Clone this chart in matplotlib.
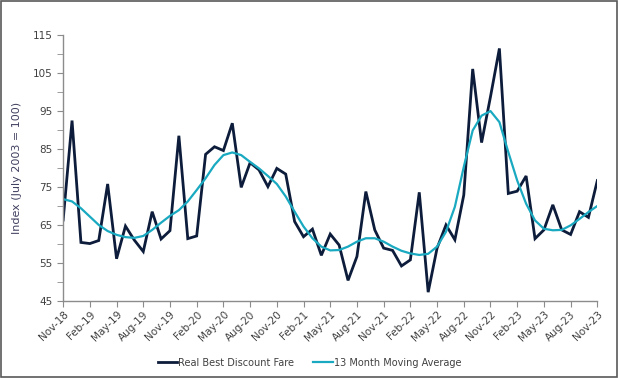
import matplotlib
matplotlib.use('agg')
from matplotlib import pyplot as plt
from matplotlib.patches import Rectangle
import numpy as np

# monthly series, Nov-18 .. Nov-23
months = ['Nov-18', 'Dec-18', 'Jan-19', 'Feb-19', 'Mar-19', 'Apr-19', 'May-19', 'Jun-19',
          'Jul-19', 'Aug-19', 'Sep-19', 'Oct-19', 'Nov-19', 'Dec-19', 'Jan-20', 'Feb-20',
          'Mar-20', 'Apr-20', 'May-20', 'Jun-20', 'Jul-20', 'Aug-20', 'Sep-20', 'Oct-20',
          'Nov-20', 'Dec-20', 'Jan-21', 'Feb-21', 'Mar-21', 'Apr-21', 'May-21', 'Jun-21',
          'Jul-21', 'Aug-21', 'Sep-21', 'Oct-21', 'Nov-21', 'Dec-21', 'Jan-22', 'Feb-22',
          'Mar-22', 'Apr-22', 'May-22', 'Jun-22', 'Jul-22', 'Aug-22', 'Sep-22', 'Oct-22',
          'Nov-22', 'Dec-22', 'Jan-23', 'Feb-23', 'Mar-23', 'Apr-23', 'May-23', 'Jun-23',
          'Jul-23', 'Aug-23', 'Sep-23', 'Oct-23', 'Nov-23']

fare = [66.3, 92.5, 60.4, 60.1, 60.9, 75.8, 56.1, 64.7, 61.0, 58.0, 68.5, 61.3,
        63.5, 88.5, 61.4, 62.1, 83.6, 85.6, 84.6, 91.8, 74.9, 81.4, 79.5, 75.1,
        79.9, 78.4, 65.9, 61.9, 63.9, 57.0, 62.6, 59.7, 50.4, 56.7, 73.8, 63.7,
        58.9, 58.3, 54.2, 55.8, 73.6, 47.3, 58.9, 65.0, 61.1, 72.9, 106.1, 86.7,
        98.8, 111.5, 73.3, 73.9, 77.9, 61.4, 63.7, 70.3, 63.7, 62.5, 68.5, 67.0,
        76.7]

mov_avg = [71.8, 71.2, 69.4, 67.2, 65.0, 63.4, 62.4, 61.8, 61.6, 62.1, 63.7, 65.6,
           67.4, 68.9, 71.2, 74.2, 77.3, 80.8, 83.4, 84.1, 83.4, 81.6, 79.9, 77.9,
           75.8, 72.5, 68.5, 64.6, 61.5, 59.3, 58.3, 58.4, 59.3, 60.6, 61.5, 61.5,
           60.6, 59.3, 58.2, 57.5, 57.1, 57.4, 59.3, 63.2, 69.8, 80.3, 89.9, 93.8,
           95.0, 92.1, 84.2, 76.7, 70.6, 66.2, 64.0, 63.6, 63.7, 64.9, 66.6, 68.4,
           70.0]

NAVY = '#0c1c3a'
TEAL = '#19a9c0'
GREY = '#404040'

fig = plt.figure(figsize=(6.19, 3.78), dpi=100)
fig.patches.append(Rectangle((0.001, 0.002), 0.996, 0.995, transform=fig.transFigure,
                             fill=False, edgecolor='#595959', linewidth=1.2))
ax = fig.add_axes([0.102, 0.204, 0.863, 0.703])

x = np.arange(len(months))
ax.plot(x, fare, color=NAVY, lw=2.0, label='Real Best Discount Fare', solid_joinstyle='miter')
ax.plot(x, mov_avg, color=TEAL, lw=1.6, label='13 Month Moving Average')

ax.set_xlim(0, len(months) - 1)
ax.set_ylim(45, 115)
ax.set_yticks(np.arange(45, 116, 10))
ax.set_yticks(np.arange(50, 115, 10), minor=True)
ax.set_xticks(x[::3])
ax.set_xticklabels(months[::3], rotation=45, ha='right', rotation_mode='anchor')

for s in ['top', 'right']:
    ax.spines[s].set_visible(False)
for s in ['left', 'bottom']:
    ax.spines[s].set_color('#8c8c8c')
    ax.spines[s].set_linewidth(1.0)
ax.tick_params(which='both', direction='out', length=4, color='#8c8c8c',
               labelsize=7.5, labelcolor=GREY)
ax.tick_params(axis='x', pad=2)
ax.set_ylabel('Index (July 2003 = 100)', fontsize=8, color='#404060', labelpad=8)

fig.legend(loc='center', bbox_to_anchor=(0.5, 0.04), ncol=2, frameon=False,
           fontsize=7, handlelength=2.0, columnspacing=2.0, labelcolor=GREY,
           handletextpad=0.1)

fig.savefig('out.png', dpi=100)
plt.close()
